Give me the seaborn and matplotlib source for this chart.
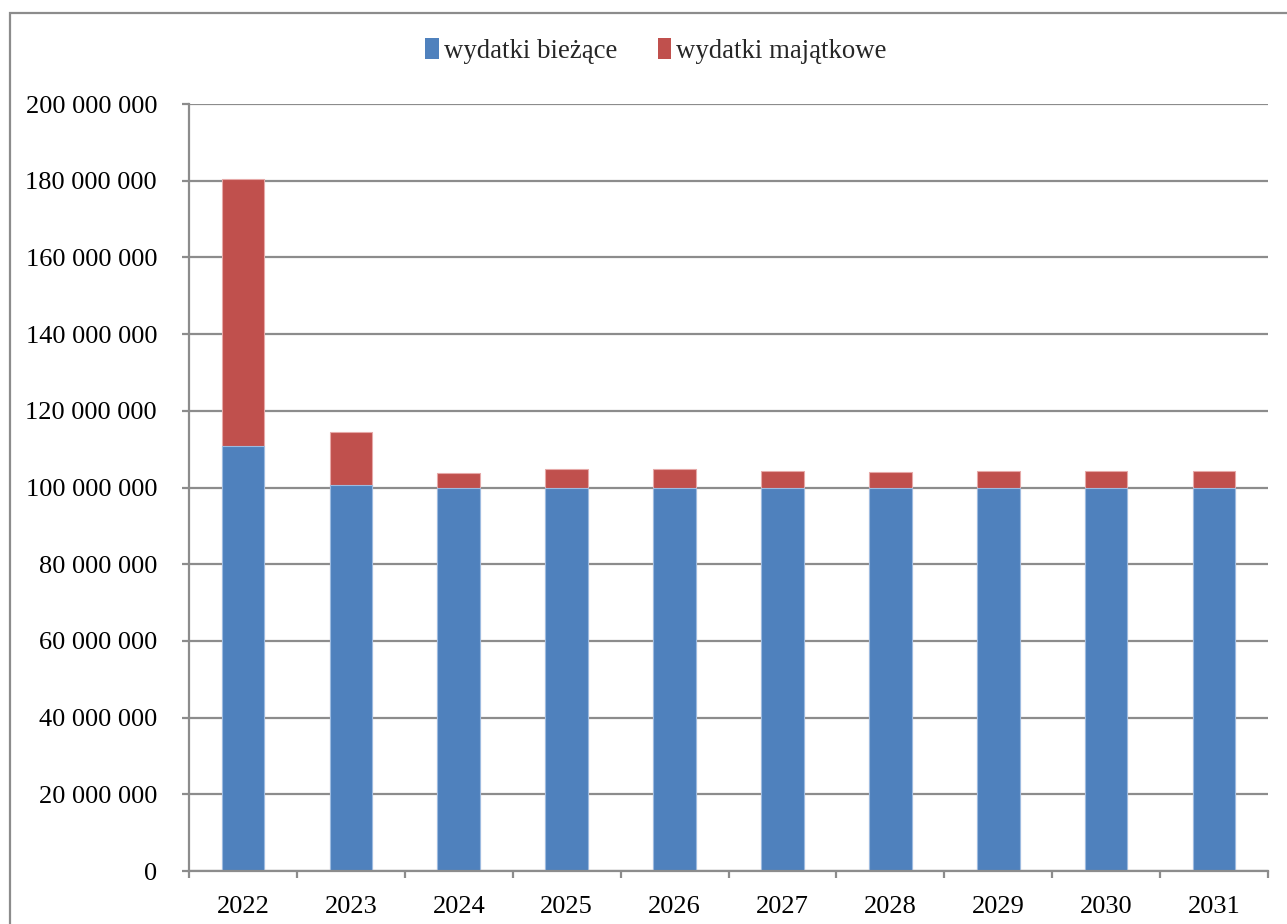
import matplotlib
matplotlib.use("Agg")
import matplotlib.pyplot as plt
import seaborn as sns
import pandas as pd
import numpy as np
from matplotlib.patches import Rectangle, Patch
from matplotlib.ticker import FuncFormatter, FixedLocator

years = ["2022", "2023", "2024", "2025", "2026", "2027", "2028", "2029", "2030", "2031"]
biezace = [110.8e6, 100.6e6, 100.0e6, 100.0e6, 100.0e6, 100.0e6, 100.0e6, 100.0e6, 100.0e6, 100.0e6]
majatkowe = [69.7e6, 14.0e6, 3.9e6, 4.9e6, 4.7e6, 4.3e6, 4.0e6, 4.4e6, 4.2e6, 4.2e6]
labels = ["wydatki bieżące", "wydatki majątkowe"]

sns.set_theme(style="white")
plt.rcParams["font.family"] = ["Liberation Serif", "DejaVu Serif"]

df = pd.DataFrame({"rok": years, "biezace": biezace, "majatkowe": majatkowe})
df["suma"] = df["biezace"] + df["majatkowe"]

fig = plt.figure(figsize=(12.87, 9.24), dpi=100)
ax = fig.add_axes([189 / 1287, 1 - 871 / 924, (1268 - 189) / 1287, (871 - 104) / 924])

blue = "#4F81BD"
red = "#C0504D"
sns.barplot(data=df, x="rok", y="suma", color=red, width=0.395, ax=ax, saturation=1,
            edgecolor="#e6a9a8", linewidth=0.8)
sns.barplot(data=df, x="rok", y="biezace", color=blue, width=0.395, ax=ax, saturation=1,
            edgecolor="#9dbbe0", linewidth=0.8)

ax.set_ylim(0, 200e6)
ax.set_xlim(-0.5, len(years) - 0.5)
ax.set_yticks(np.arange(0, 200e6 + 1, 20e6))
ax.yaxis.set_major_formatter(FuncFormatter(lambda v, p: f"{int(round(v)):,}".replace(",", " ")))
ax.yaxis.grid(True, color="#8c8c8c", linewidth=1.6)
ax.set_axisbelow(True)
ax.set_xlabel("")
ax.set_ylabel("")

for s in ["top", "right"]:
    ax.spines[s].set_visible(False)
for s in ["left", "bottom"]:
    ax.spines[s].set_color("#8c8c8c")
    ax.spines[s].set_linewidth(1.6)

ax.tick_params(axis="y", which="major", length=5, width=1.6, color="#8c8c8c",
               labelsize=19, pad=18, direction="out", left=True)
ax.tick_params(axis="x", which="major", length=0, labelsize=19, pad=18)
ax.xaxis.set_minor_locator(FixedLocator(np.arange(-0.5, len(years), 1.0)))
ax.tick_params(axis="x", which="minor", length=5, width=1.6, color="#8c8c8c",
               direction="out", bottom=True)
for lbl in ax.get_yticklabels() + ax.get_xticklabels():
    lbl.set_color("black")

handles = [Patch(facecolor=blue, edgecolor="none"), Patch(facecolor=red, edgecolor="none")]
fig.legend(handles, labels, loc="center", bbox_to_anchor=(656 / 1287, 1 - 51 / 924),
           ncol=2, frameon=False, fontsize=19.3, handlelength=0.5, handleheight=0.85,
           handletextpad=0.2, columnspacing=1.5)

fig.patches.append(Rectangle((10 / 1287, -0.01), 1.1, 1 - 13 / 924 + 0.01,
                             transform=fig.transFigure, fill=False,
                             edgecolor="#8c8c8c", linewidth=1.6))

fig.savefig("out.png", dpi=100)
